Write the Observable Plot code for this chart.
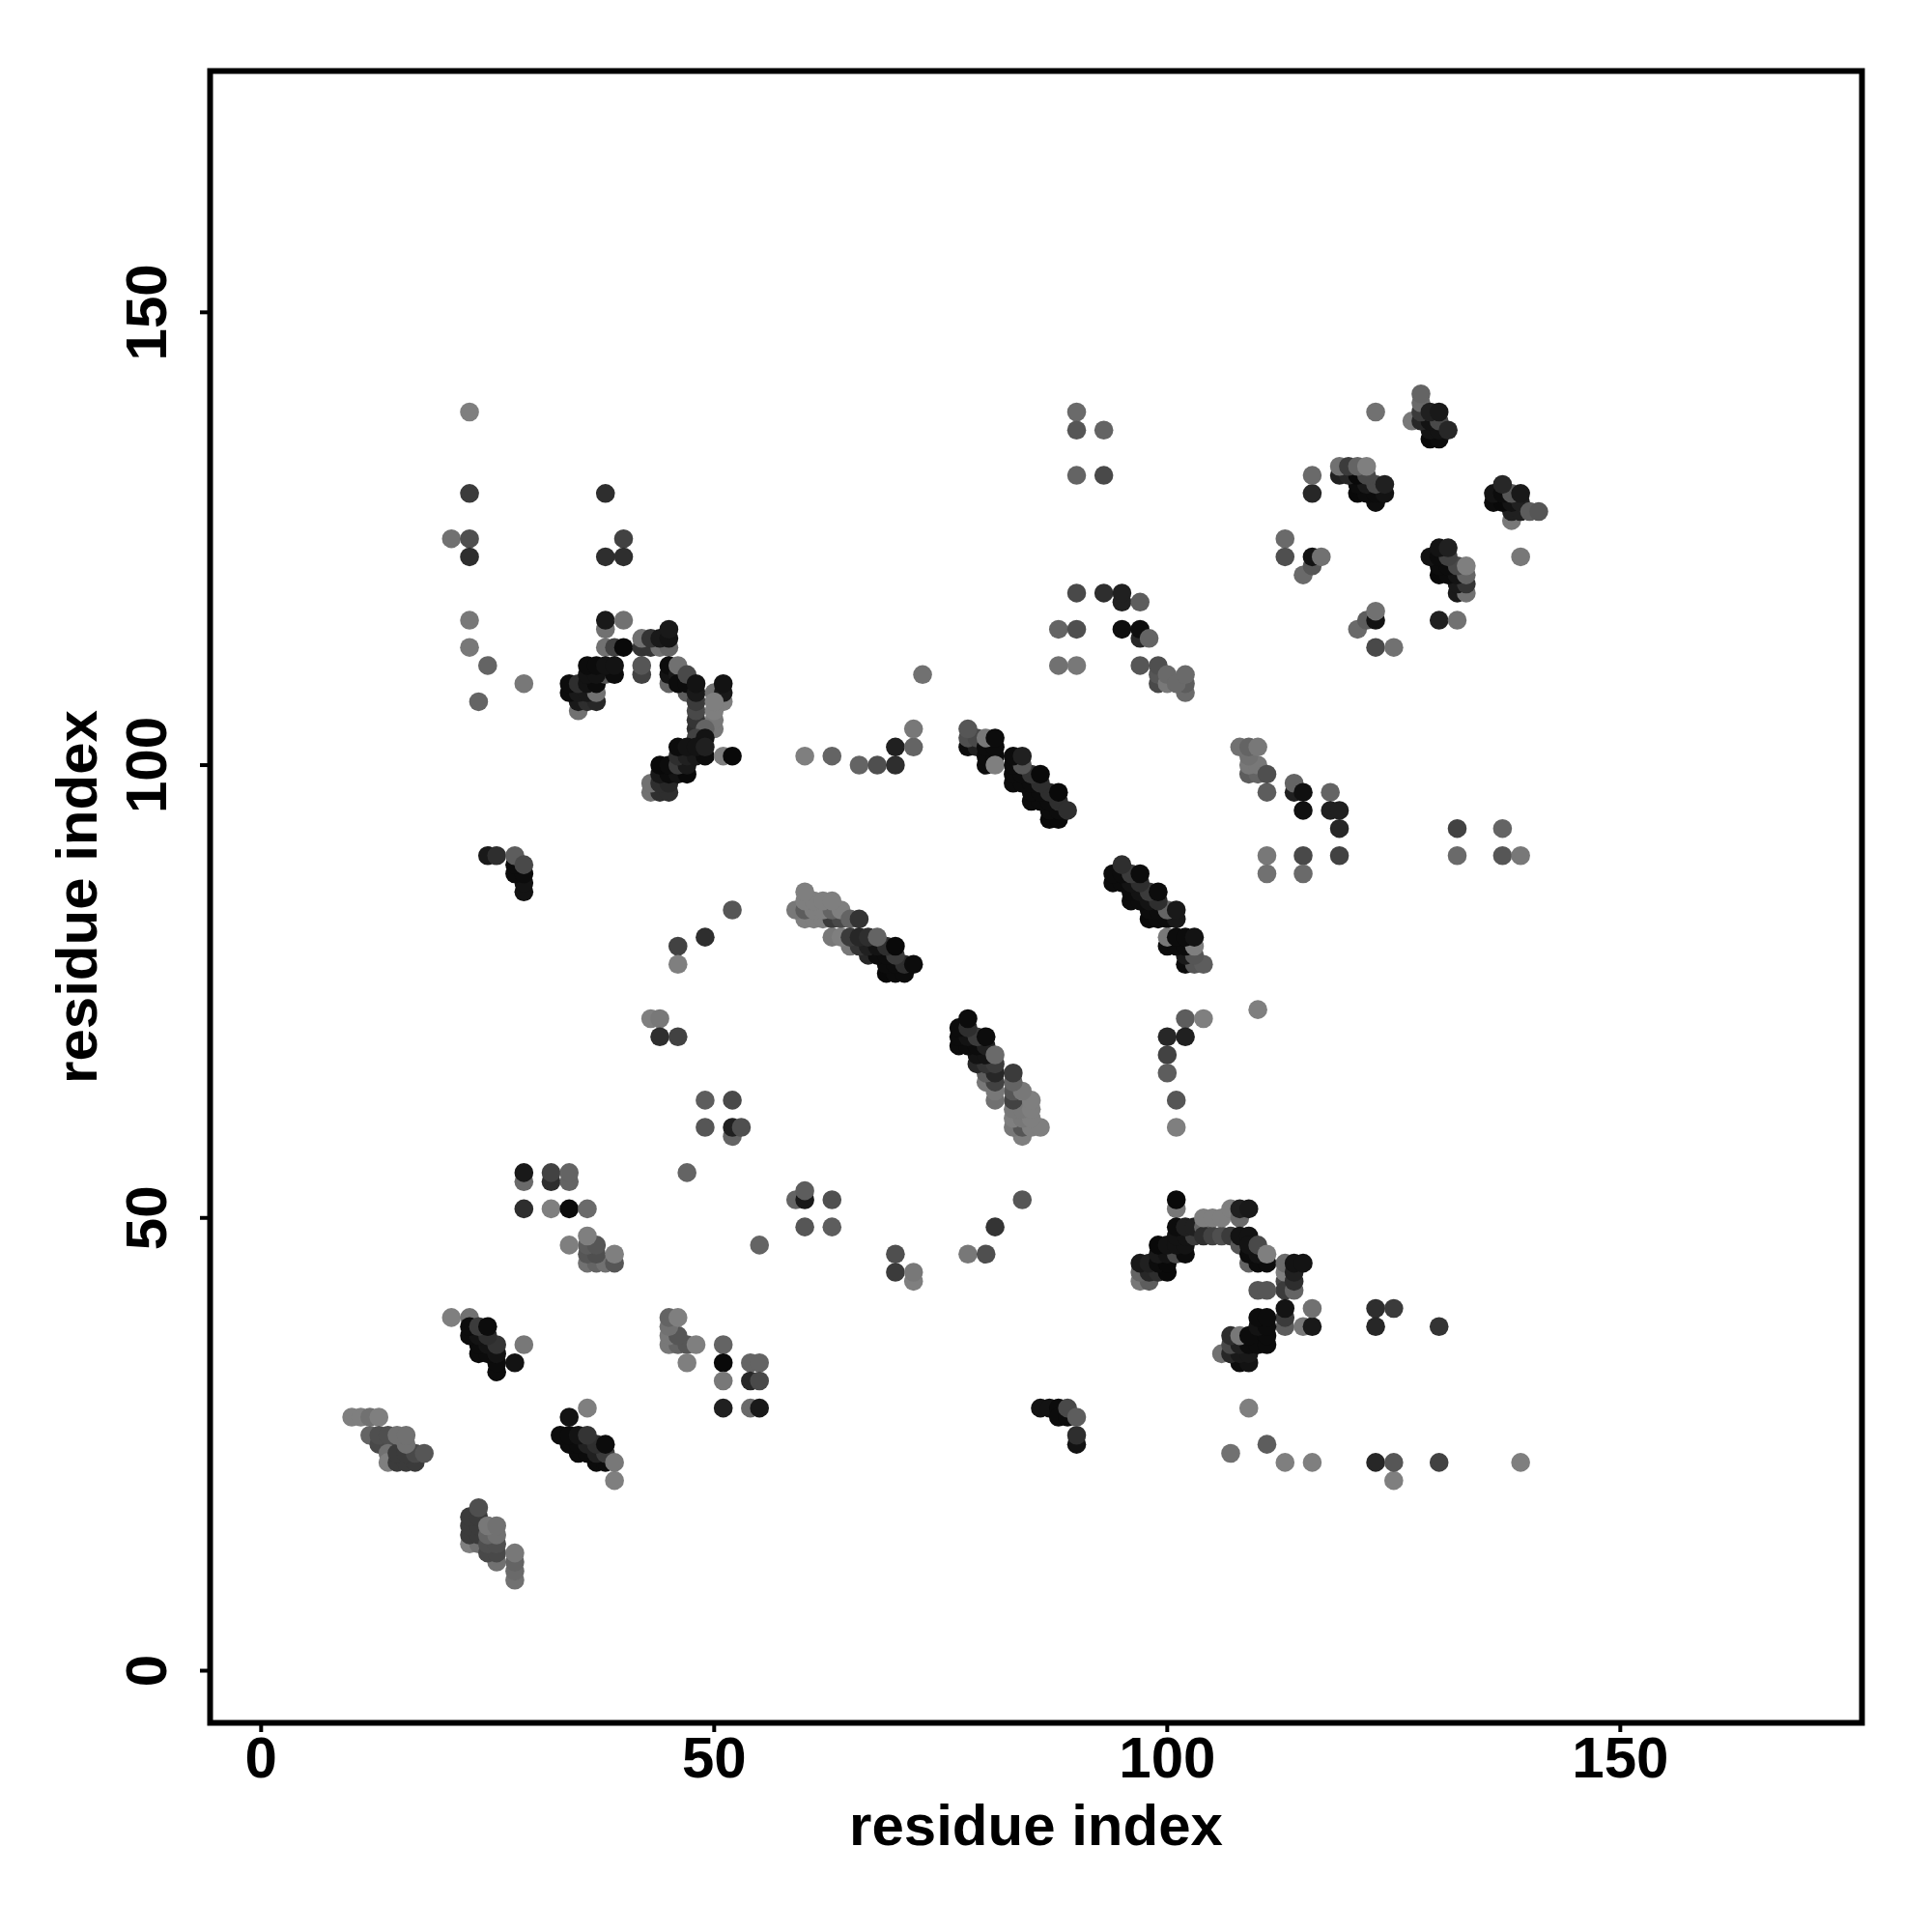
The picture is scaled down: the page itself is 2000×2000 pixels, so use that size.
<!DOCTYPE html>
<html><head><meta charset="utf-8">
<script src="https://cdn.jsdelivr.net/npm/d3@7"></script>
<script src="https://cdn.jsdelivr.net/npm/@observablehq/plot@0.6"></script>
<style>html,body{margin:0;padding:0;background:#fff}svg{display:block}</style>
</head><body><div id="chart"></div>
<script>
const tickValues = [0, 50, 100, 150];
const axisTitle = "residue index";
// each entry: residue i, residue j, contact score (0 weak, 1 strong); later entries sit on top
const nTermA = [[10,28,.1],[11,28,.1],[12,28,.2],[13,28,.1],[12,26,.3],[13,25,.5],[14,25,.5],[13,26,.45],[14,26,.45],[14,24,.2],[14,23,.1],[15,23,.6],[16,23,.6],[17,23,.6],[15,24,.6],[16,24,.6],[17,24,.5],[18,24,.4],[16,25,.2],[15,26,.2],[16,26,.2]];
const nTermB = [[23,14,.1],[24,14,.2],[23,15,.6],[24,15,.6],[23,16,.6],[24,16,.6],[23,17,.6],[24,17,.6],[24,18,.45],[26,12,.2],[25,13,.5],[26,13,.5],[25,14,.45],[26,14,.45],[25,15,.3],[26,15,.2],[25,16,.15],[26,16,.2],[28,10,.2],[28,11,.25],[28,12,.3],[28,13,.15]];
const nTermC = [[21,39,.1],[23,39,.2],[26,33,.95],[26,34,.95],[24,35,.95],[25,35,.95],[26,35,.9],[24,36,.95],[25,36,.9],[26,36,.65],[23,37,.95],[24,37,.9],[25,37,.7],[23,38,.95],[24,38,.6],[25,38,.95],[28,34,.9],[29,36,.15]];
const nTermD = [[39,21,.1],[37,23,.95],[38,23,.95],[35,24,.95],[36,24,.95],[37,24,.8],[38,24,.6],[34,25,.95],[35,25,.95],[36,25,.8],[37,25,.7],[33,26,.95],[34,26,.95],[35,26,.9],[36,26,.65],[38,25,.95],[39,23,.15],[34,28,.9],[36,29,.1]];
const sheetE = [[45,36,.15],[46,36,.3],[47,36,.4],[48,36,.1],[45,37,.15],[46,37,.4],[45,38,.2],[45,39,.3],[46,39,.1],[47,34,.1],[51,36,.3],[51,34,.97],[51,32,.15],[51,29,.8],[54,34,.3],[55,34,.3],[54,32,.75],[55,32,.5],[54,29,.25],[55,29,.85]];
const sheetF = [[36,45,.2],[37,45,.3],[38,45,.2],[39,45,.4],[36,46,.4],[37,46,.45],[39,46,.1],[36,47,.35],[37,47,.4],[34,47,.1],[36,48,.1],[29,51,.7],[32,51,.1],[34,51,.95],[36,51,.25],[55,47,.3]];
const midG = [[59,52,.3],[60,52,.85],[60,53,.35],[63,52,.45],[60,49,.4],[63,49,.35],[70,46,.45],[70,44,.6],[72,43,.1],[72,44,.15],[78,46,.15],[80,46,.45],[81,49,.65],[84,52,.4]];
const midH = [[90,25,.9],[90,26,.7],[86,29,.9],[87,29,.9],[88,29,.95],[88,28,.95],[89,28,.95],[89,29,.5],[90,28,.35]];
const loopI = [[101,51,.15],[101,52,.97],[97,43,.15],[98,43,.35],[97,44,.3],[98,44,.75],[99,44,.7],[100,44,.97],[97,45,.85],[98,45,.8],[99,45,.95],[100,45,.97],[99,46,.85],[100,46,.9],[101,46,.5],[102,46,.95],[99,47,.97],[100,47,.9],[101,47,.9],[102,47,.9],[101,48,.9],[102,48,.9],[103,48,.6],[101,49,.95],[102,49,.8],[103,49,.8],[104,49,.3],[104,48,.7],[105,48,.55],[106,48,.45],[107,48,.6],[104,50,.1],[105,50,.1],[106,50,.1],[107,51,.1],[108,50,.25],[108,51,.8],[109,51,.85]];
const loopJ = [[109,45,.3],[110,45,.95],[111,45,.95],[108,47,.4],[108,48,.9],[109,48,.9],[109,46,.95],[110,46,.9],[109,47,.9],[110,47,.5],[111,46,.1],[113,43,.5],[113,42,.6],[114,42,.3],[113,44,.1],[113,45,.25],[114,43,.7],[114,44,.8],[114,45,.9],[115,45,.9],[110,42,.4],[111,42,.4]];
const loopK = [[113,38,.35],[113,39,.6],[113,40,.9],[115,38,.15],[116,38,.85],[116,40,.2],[123,40,.7],[125,40,.6],[123,38,.75],[130,38,.65],[106,35,.2],[108,34,.95],[109,34,.9],[107,35,.75],[108,35,.85],[109,35,.85],[107,36,.5],[108,36,.8],[109,36,.95],[110,36,.95],[111,36,.95],[107,37,.7],[108,37,.15],[109,37,.95],[111,37,.95],[110,38,.9],[111,38,.95],[110,39,.95],[111,39,.95]];
const tailL = [[109,29,.1],[111,25,.35],[107,24,.2],[113,23,.1],[116,23,.1],[123,23,.75],[125,21,.1],[125,23,.4],[130,23,.55],[139,23,.1]];
const helixM = [[25,90,.85],[26,90,.7],[29,86,.9],[29,87,.9],[28,88,.95],[29,88,.95],[28,89,.95],[28,90,.35],[29,89,.5]];
const arcN = [[52,84,.4],[49,81,.7],[46,80,.55],[46,78,.1],[43,72,.1],[44,72,.15],[44,70,.7],[46,70,.55],[49,63,.35],[52,63,.5],[49,60,.4],[52,59,.3],[52,60,.8],[53,60,.45],[47,55,.3],[29,54,.25],[29,55,.85],[32,54,.7],[32,55,.55],[34,54,.3],[34,55,.3]];
const helixO = [[60,83,.1],[61,83,.1],[62,83,.1],[63,83,.6],[64,83,.5],[59,84,.15],[60,84,.35],[61,84,.1],[62,84,.1],[63,84,.3],[64,84,.1],[60,85,.1],[61,85,.1],[62,85,.1],[63,85,.1],[60,86,.1],[65,83,.3],[66,83,.65]];
const helixP = [[69,77,.97],[70,77,.95],[71,77,.95],[69,78,.95],[70,78,.95],[71,78,.7],[67,79,.75],[68,79,.95],[69,79,.95],[70,79,.6],[65,80,.15],[66,80,.65],[67,80,.8],[68,80,.9],[69,80,.7],[63,81,.15],[64,81,.1],[65,81,.6],[66,81,.75],[67,81,.7],[68,81,.3],[70,80,.97],[72,78,.95]];
const helixQ = [[84,59,.1],[83,60,.15],[84,60,.4],[85,60,.1],[86,60,.1],[83,61,.1],[84,61,.15],[85,61,.1],[83,62,.15],[84,62,.15],[85,62,.1],[83,63,.55],[85,63,.1],[83,64,.4],[84,64,.15],[83,65,.3],[83,66,.6],[81,63,.2],[81,64,.15],[80,65,.15],[81,65,.55],[80,66,.35],[81,66,.75],[79,67,.75],[80,67,.65],[81,67,.6],[79,68,.9],[80,68,.9],[77,69,.95],[78,69,.95],[79,69,.95],[80,69,.8],[81,68,.25],[77,70,.95],[78,70,.9],[79,70,.6],[77,71,.95],[78,71,.7],[80,70,.95],[78,72,.95]];
const helixR = [[98,83,.97],[99,83,.95],[100,83,.95],[101,83,.85],[98,84,.95],[99,84,.95],[100,84,.3],[101,84,.85],[96,85,.95],[97,85,.95],[98,85,.9],[99,85,.7],[96,86,.95],[97,86,.9],[98,86,.6],[99,86,.95],[94,87,.95],[95,87,.95],[96,87,.9],[97,87,.7],[94,88,.95],[95,88,.95],[96,88,.6],[95,89,.7],[97,88,.95]];
const helixS = [[102,78,.95],[103,78,.4],[104,78,.35],[102,79,.85],[103,79,.4],[100,80,.95],[101,80,.95],[102,80,.95],[103,80,.1],[100,81,.15],[101,81,.95],[102,81,.95],[103,81,.9]];
const arcT = [[102,72,.35],[104,72,.1],[110,73,.1],[100,70,.75],[102,70,.8],[100,68,.55],[100,66,.35],[101,63,.4],[101,60,.1]];
const strandU = [[111,97,.35],[109,99,.35],[110,99,.3],[109,100,.15],[110,100,.15],[109,101,.2],[108,102,.2],[109,102,.3],[110,102,.15],[111,99,.45],[114,97,.8],[114,98,.3],[115,97,.92],[115,95,.92],[118,97,.3],[118,95,.8],[119,95,.8],[119,93,.75],[132,93,.55],[137,93,.3],[132,90,.25],[137,90,.4],[139,90,.15],[111,90,.15],[115,90,.5],[119,90,.55],[111,88,.2],[115,88,.25]];
const upperV = [[23,139,.1],[23,130,.6],[38,130,.7],[21,125,.2],[23,125,.45],[40,125,.55],[23,123,.7],[38,123,.7],[40,123,.7],[23,116,.15],[38,115,.2],[38,116,.85],[40,116,.2],[23,113,.15],[38,113,.2],[39,113,.55],[40,113,.97],[25,111,.3],[29,109,.15],[24,107,.3]];
const upperW = [[42,113,.65],[43,113,.65],[44,113,.2],[45,113,.3],[42,114,.2],[43,114,.65],[44,114,.85],[45,114,.9],[45,115,.85],[42,110,.55],[42,111,.4]];
const upperX = [[35,106,.2],[35,107,.85],[36,107,.7],[37,107,.75],[34,108,.95],[35,108,.85],[36,108,.85],[37,108,.2],[34,109,.95],[35,109,.7],[36,109,.9],[37,109,.95],[38,110,.4],[36,110,.9],[37,110,.9],[39,110,.95],[36,111,.95],[37,111,.95],[38,111,.9],[39,111,.9]];
const upperY = [[45,109,.3],[45,110,.9],[45,111,.95],[46,110,.85],[46,111,.2],[47,108,.35],[46,109,.95],[47,109,.95],[47,110,.5],[48,104,.7],[48,105,.65],[48,106,.5],[48,107,.6],[48,108,.85],[48,109,.9],[50,108,.2],[51,107,.1],[51,108,.85],[51,109,.9],[50,104,.15],[50,105,.15],[50,106,.1],[50,107,.1],[49,104,.3],[48,103,.55],[49,103,.9]];
const upperZ = [[43,97,.2],[44,97,.7],[45,97,.7],[43,98,.2],[44,98,.7],[45,98,.75],[44,99,.85],[45,99,.95],[46,99,.9],[47,99,.97],[44,100,.97],[45,100,.95],[46,100,.6],[47,100,.85],[46,101,.7],[47,101,.8],[48,101,.85],[49,101,.95],[46,102,.95],[47,102,.9],[48,102,.9],[49,102,.8],[51,101,.1],[52,101,.97]];
const centerA = [[60,101,.1],[63,101,.3],[66,100,.3],[68,100,.45],[70,100,.7],[70,102,.8],[72,102,.3],[72,104,.15],[73,110,.2]];
const helixB2 = [[78,102,.95],[79,102,.8],[78,103,.45],[79,103,.5],[78,104,.4],[80,100,.95],[80,101,.95],[81,101,.95],[80,102,.95],[81,102,.95],[80,103,.15],[81,100,.1],[81,103,.95]];
const helixC2 = [[87,94,.97],[88,94,.97],[87,95,.95],[88,95,.95],[85,96,.95],[86,96,.95],[87,96,.95],[88,96,.7],[85,97,.95],[86,97,.95],[87,97,.7],[83,98,.95],[84,98,.95],[85,98,.95],[86,98,.7],[83,99,.95],[84,99,.95],[85,99,.65],[83,100,.95],[84,100,.4],[83,101,.95],[84,101,.8],[86,99,.97],[88,97,.97],[89,95,.7]];
const domainD2 = [[90,139,.25],[90,137,.4],[93,137,.3],[90,132,.3],[93,132,.5],[90,119,.5],[93,119,.7],[95,118,.8],[95,119,.8],[97,118,.35],[88,115,.3],[90,115,.45],[95,115,.93],[97,114,.75],[97,115,.93],[98,114,.3],[88,111,.2],[90,111,.15],[97,111,.4],[99,109,.5],[99,110,.4],[99,111,.45],[100,109,.15],[100,110,.25],[102,108,.25],[102,109,.35],[101,109,.25],[102,110,.25]];
const domainE2 = [[129,136,.97],[130,136,.95],[129,137,.9],[130,137,.9],[127,138,.15],[128,138,.75],[129,138,.9],[130,138,.5],[128,139,.6],[128,140,.25],[128,141,.3],[129,139,.8],[130,139,.85],[131,137,.75],[123,139,.2]];
const domainF2 = [[123,129,.93],[121,130,.97],[122,130,.95],[123,130,.95],[124,130,.9],[121,131,.95],[122,131,.85],[123,131,.5],[124,131,.8],[119,132,.8],[120,132,.75],[121,132,.97],[122,132,.5],[119,133,.2],[120,133,.6],[121,133,.3],[122,133,.1],[116,130,.75],[116,132,.25]];
const domainG2 = [[113,125,.25],[113,123,.45],[115,121,.25],[116,122,.4],[116,123,.9],[117,123,.2],[121,115,.25],[122,116,.35],[123,116,.9],[123,117,.2],[123,113,.5],[125,113,.2],[130,116,.8],[132,116,.2],[139,123,.15]];
const domainH2 = [[132,119,.85],[133,119,.2],[132,120,.85],[133,120,.65],[130,121,.97],[131,121,.95],[132,121,.9],[133,121,.3],[130,122,.95],[131,122,.95],[132,122,.5],[129,123,.9],[130,123,.95],[131,123,.55],[130,124,.9],[131,124,.8],[133,122,.1]];
const domainI2 = [[138,127,.15],[138,128,.8],[139,128,.8],[136,129,.95],[137,129,.97],[138,129,.9],[139,129,.8],[136,130,.9],[137,130,.95],[138,130,.4],[137,131,.75],[139,130,.85],[140,128,.35],[141,128,.4]];

const contacts = [nTermA,nTermB,nTermC,nTermD,sheetE,sheetF,midG,midH,loopI,loopJ,loopK,tailL,helixM,arcN,helixO,helixP,helixQ,helixR,helixS,arcT,strandU,upperV,upperW,upperX,upperY,upperZ,centerA,helixB2,helixC2,domainD2,domainE2,domainF2,domainG2,domainH2,domainI2]
  .flat().map(([i, j, score]) => ({i, j, score}));

const chart = Plot.plot({
  width: 2000, height: 2000,
  marginLeft: 217, marginRight: 73, marginTop: 73, marginBottom: 217,
  style: {fontFamily: "'Liberation Sans', sans-serif", fontWeight: "bold", background: "#fff", color: "#000"},
  x: {domain: [-5.63, 176.67]},
  y: {domain: [-5.76, 176.65]},
  color: {type: "linear", domain: [0, 1], range: ["#8c8c8c", "#050505"]},
  marks: [
    Plot.dot(contacts, {x: "i", y: "j", r: 9.8, fill: "score"}),
    Plot.frame({stroke: "#000", strokeWidth: 6}),
    Plot.axisX({ticks: tickValues, tickFormat: d => String(d), tickSize: 10, tickPadding: 4, strokeWidth: 4,
      fontSize: 60, label: axisTitle, labelAnchor: "center", labelArrow: "none", labelOffset: 126}),
    Plot.axisY({ticks: tickValues, tickFormat: d => String(d), tickSize: 10, tickPadding: 36, strokeWidth: 4, tickRotate: -90,
      fontSize: 60, label: axisTitle, labelAnchor: "center", labelArrow: "none", labelOffset: 160})
  ]
});
document.getElementById("chart").append(chart);
</script></body></html>
